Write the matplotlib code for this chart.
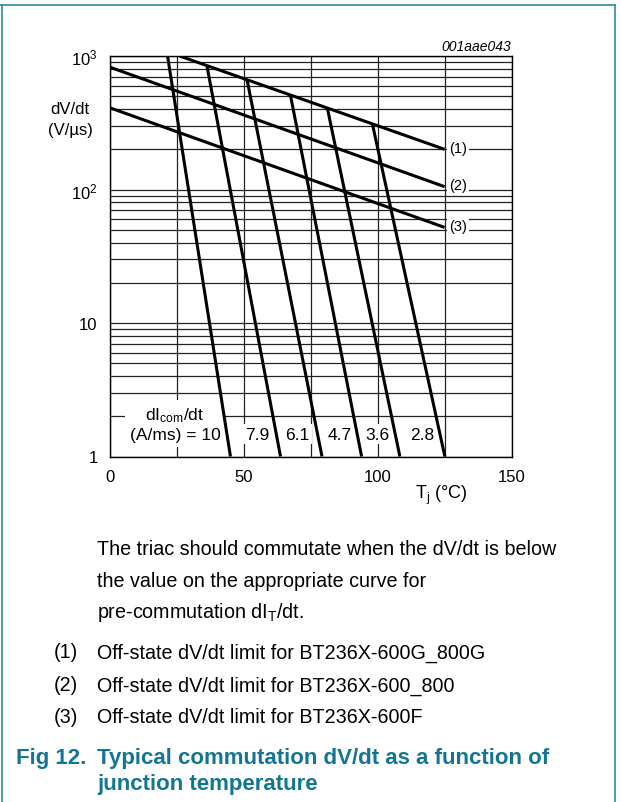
import matplotlib
matplotlib.use('Agg')
import matplotlib.pyplot as plt
from matplotlib.lines import Line2D
from matplotlib.ticker import FixedLocator, LogLocator, NullFormatter

plt.rcParams['font.family'] = 'Liberation Sans'
plt.rcParams['mathtext.fontset'] = 'custom'
plt.rcParams['mathtext.rm'] = 'Liberation Sans'
plt.rcParams['mathtext.it'] = 'Liberation Sans:italic'
plt.rcParams['mathtext.bf'] = 'Liberation Sans:bold'

# off-state dV/dt limit lines (1), (2), (3)
limit_names = ['(1)', '(2)', '(3)']
limit_tj = [[26, 125], [0, 125], [0, 125]]
limit_dvdt = [[1000, 200], [824, 105], [409, 52]]

# commutation curves, one per dIcom/dt value
dicom_labels = ['7.9', '6.1', '4.7', '3.6', '2.8']
comm_tj_top = [21.5, 36.2, 51.2, 67.4, 81.2, 98.0]
comm_dvdt_top = [1000, 847, 664, 510, 408, 312]
comm_tj_bottom = [45.0, 63.7, 79.2, 94.0, 108.3, 125.1]
comm_dvdt_bottom = [1, 1, 1, 1, 1, 1]
dicom_label_tj = [54.9, 70.0, 85.7, 99.8, 116.6]

xticks = [0, 50, 100, 150]
yticks = [1, 10, 100, 1000]
ytick_labels = ['1', '10', '$10^2$', '$10^3$']

W, H = 621, 803
fig = plt.figure(figsize=(W / 100, H / 100), dpi=100)
ax = fig.add_axes([110 / W, 1 - 457.5 / H, 401.5 / W, 400.5 / H])

ax.set_yscale('log')
ax.set_xlim(0, 150)
ax.set_ylim(1, 1000)

ax.xaxis.set_major_locator(FixedLocator(xticks))
ax.xaxis.set_minor_locator(FixedLocator([25, 75, 125]))
ax.set_xticklabels([str(t) for t in xticks])
ax.yaxis.set_major_locator(FixedLocator(yticks))
ax.set_yticklabels(ytick_labels)
ax.yaxis.set_minor_locator(LogLocator(base=10, subs=range(2, 10)))
ax.yaxis.set_minor_formatter(NullFormatter())
ax.tick_params(which='both', length=0, labelsize=12)
ax.tick_params(axis='x', pad=9)
ax.tick_params(axis='y', pad=9)

ax.set_axisbelow(True)
ax.grid(which='both', color='#222222', lw=0.9)
for s in ax.spines.values():
    s.set_linewidth(1.0)

for tj, dv in zip(limit_tj, limit_dvdt):
    ax.plot(tj, dv, color='black', lw=2.2, zorder=3, solid_capstyle='butt')
for i in range(len(comm_tj_top)):
    ax.plot([comm_tj_top[i], comm_tj_bottom[i]],
            [comm_dvdt_top[i], comm_dvdt_bottom[i]],
            color='black', lw=2.2, zorder=3, solid_capstyle='butt')

box = dict(facecolor='white', edgecolor='none', boxstyle='square,pad=0.15')
for name, dv in zip(limit_names, limit_dvdt):
    ax.text(126.8, dv[-1] * 1.03, name, ha='left', va='center',
            fontsize=10.5, bbox=box, zorder=2)

ax.text(24.3, 1.75, 'dI$_{\\rm com}$/dt\n(A/ms) = 10', ha='center',
        va='center', multialignment='center', fontsize=12.5,
        linespacing=1.25, bbox=dict(facecolor='white', edgecolor='none',
                                    boxstyle='square,pad=0.25'), zorder=2)
for lab, tj in zip(dicom_labels, dicom_label_tj):
    ax.text(tj, 1.47, lab, ha='center', va='center', fontsize=12.5,
            bbox=box, zorder=2)

ax.text(1.0, 1.025, '001aae043', transform=ax.transAxes, ha='right',
        va='center', fontsize=10, style='italic')

fig.text(70 / W, 1 - 110 / H, 'dV/dt', ha='center', va='center', fontsize=12)
fig.text(70 / W, 1 - 131 / H, '(V/µs)', ha='center', va='center', fontsize=12)
fig.text(441 / W, 1 - 495 / H, r'T$_{\rm j}$ (°C)', ha='center',
         va='center', fontsize=13)

# notes below the chart
body = ['The triac should commutate when the dV/dt is below',
        'the value on the appropriate curve for',
        r'pre-commutation dI$_{\rm T}$/dt.']
for txt, y in zip(body, [550, 582, 613]):
    fig.text(97 / W, 1 - y / H, txt, ha='left', va='center', fontsize=14.2)

notes = ['Off-state dV/dt limit for BT236X-600G_800G',
         'Off-state dV/dt limit for BT236X-600_800',
         'Off-state dV/dt limit for BT236X-600F']
for name, txt, y in zip(limit_names, notes, [653, 686, 718]):
    fig.text(54 / W, 1 - y / H, name, ha='left', va='center', fontsize=14.2)
    fig.text(97 / W, 1 - y / H, txt, ha='left', va='center', fontsize=14.2)

teal = '#137594'
fig.text(16 / W, 1 - 759 / H, 'Fig 12.', ha='left', va='center',
         fontsize=16, fontweight='bold', color=teal)
fig.text(97 / W, 1 - 759 / H, 'Typical commutation dV/dt as a function of',
         ha='left', va='center', fontsize=16, fontweight='bold', color=teal)
fig.text(97 / W, 1 - 785 / H, 'junction temperature', ha='left',
         va='center', fontsize=16, fontweight='bold', color=teal)

# page frame
frame = '#2a8aad'
fig.add_artist(Line2D([0, 615 / W], [1 - 6 / H] * 2, color=frame, lw=1.2,
                      transform=fig.transFigure))
fig.add_artist(Line2D([1.5 / W] * 2, [0, 1 - 6 / H], color=frame, lw=1.2,
                      transform=fig.transFigure))
fig.add_artist(Line2D([614.5 / W] * 2, [0, 1 - 6 / H], color=frame, lw=1.2,
                      transform=fig.transFigure))

fig.savefig('out.png', dpi=100)
